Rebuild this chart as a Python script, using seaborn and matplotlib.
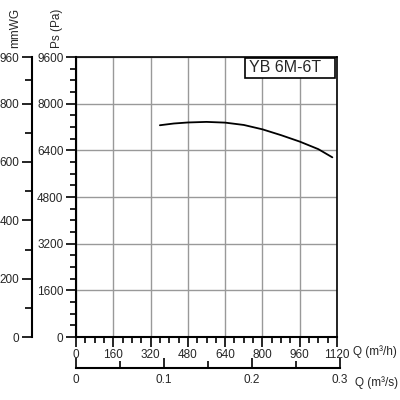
import numpy as np
import pandas as pd
import seaborn as sns
import matplotlib.pyplot as plt
from matplotlib.patches import Rectangle
from matplotlib.ticker import MultipleLocator, FixedLocator

# Fan curve data
q_m3h = [360, 420, 480, 560, 640, 720, 800, 880, 960, 1040, 1100]
ps_pa = [7260, 7320, 7355, 7375, 7350, 7270, 7120, 6920, 6700, 6440, 6160]

pa_ticks = [0, 1600, 3200, 4800, 6400, 8000, 9600]
mmwg_ticks = [0, 200, 400, 600, 800, 960]
q_ticks = [0, 160, 320, 480, 640, 800, 960, 1120]
qs_ticks = [0, 0.1, 0.2, 0.3]
model = "YB 6M-6T"

df = pd.DataFrame({'Q': q_m3h, 'Ps': ps_pa})

sns.set_style('ticks')
plt.rcParams['font.family'] = ['Liberation Sans', 'DejaVu Sans']
plt.rcParams['font.size'] = 8.5

fig = plt.figure(figsize=(4, 4), dpi=100)
W = 400.0
x0, x1 = 76, 337
y0, y1 = 337, 57
ax = fig.add_axes([x0 / W, 1 - y0 / W, (x1 - x0) / W, (y0 - y1) / W])

sns.lineplot(data=df, x='Q', y='Ps', ax=ax, color='black', linewidth=1.3)

ax.set_xlim(0, 1120)
ax.set_ylim(0, 9600)
ax.set_xticks(q_ticks)
ax.set_yticks(pa_ticks)
ax.xaxis.set_minor_locator(MultipleLocator(40))
ax.yaxis.set_minor_locator(MultipleLocator(400))
ax.grid(True, which='major', color='#999999', linewidth=1)
ax.set_axisbelow(True)
ax.tick_params(which='major', length=7, width=1.2, color='black', pad=2)
ax.tick_params(which='minor', length=4, width=1.2, color='black')
for s in ax.spines.values():
    s.set_color('black')
    s.set_linewidth(1.2)
for s in ['left', 'bottom']:
    ax.spines[s].set_linewidth(1.5)
ax.set_xlabel('')
ax.set_ylabel('')

# model label box
ax.add_patch(Rectangle((0.6475, 0.925), 0.345, 0.071, transform=ax.transAxes,
                       fc='white', ec='black', lw=1.2, zorder=5))
ax.text(0.663, 0.961, model, transform=ax.transAxes, ha='left', va='center',
        fontsize=11.5, zorder=6)

# mmWG axis on the far left
axm = fig.add_axes([32 / W, 1 - y0 / W, 0.0001, (y0 - y1) / W])
axm.set_ylim(0, 960)
axm.set_yticks(mmwg_ticks)
axm.yaxis.set_minor_locator(FixedLocator([100, 300, 500, 700, 880]))
axm.set_xticks([])
for s in ['top', 'right', 'bottom']:
    axm.spines[s].set_visible(False)
axm.spines['left'].set_linewidth(1.5)
axm.spines['left'].set_color('black')
axm.tick_params(which='major', length=7, width=1.2, color='black', pad=2)
axm.tick_params(which='minor', length=5, width=1.2, color='black')
axm.patch.set_visible(False)

# m3/s axis below
axs = fig.add_axes([x0 / W, 1 - 368 / W, (340 - x0) / W, 0.0001])
axs.set_xlim(0, 0.3)
axs.set_xticks(qs_ticks)
axs.set_xticklabels(['0', '0.1', '0.2', '0.3'])
axs.xaxis.set_minor_locator(FixedLocator([0.05, 0.15, 0.25]))
axs.set_yticks([])
for s in ['top', 'right', 'left']:
    axs.spines[s].set_visible(False)
axs.spines['bottom'].set_linewidth(1.5)
axs.spines['bottom'].set_color('black')
axs.tick_params(which='major', direction='in', length=7, width=1.2, color='black', pad=4)
axs.tick_params(which='minor', direction='in', length=5, width=1.2, color='black')
axs.patch.set_visible(False)

fig.text(353 / W, 1 - 352 / W, 'Q (m³/h)', ha='left', va='center', fontsize=8.5)
fig.text(355 / W, 1 - 383 / W, 'Q (m³/s)', ha='left', va='center', fontsize=8.5)
fig.text(57 / W, 1 - 28 / W, 'Ps (Pa)', rotation=90, ha='center', va='center', fontsize=8.5)
fig.text(15 / W, 1 - 28 / W, 'mmWG', rotation=90, ha='center', va='center', fontsize=8.5)

fig.savefig('out.png', dpi=100)
